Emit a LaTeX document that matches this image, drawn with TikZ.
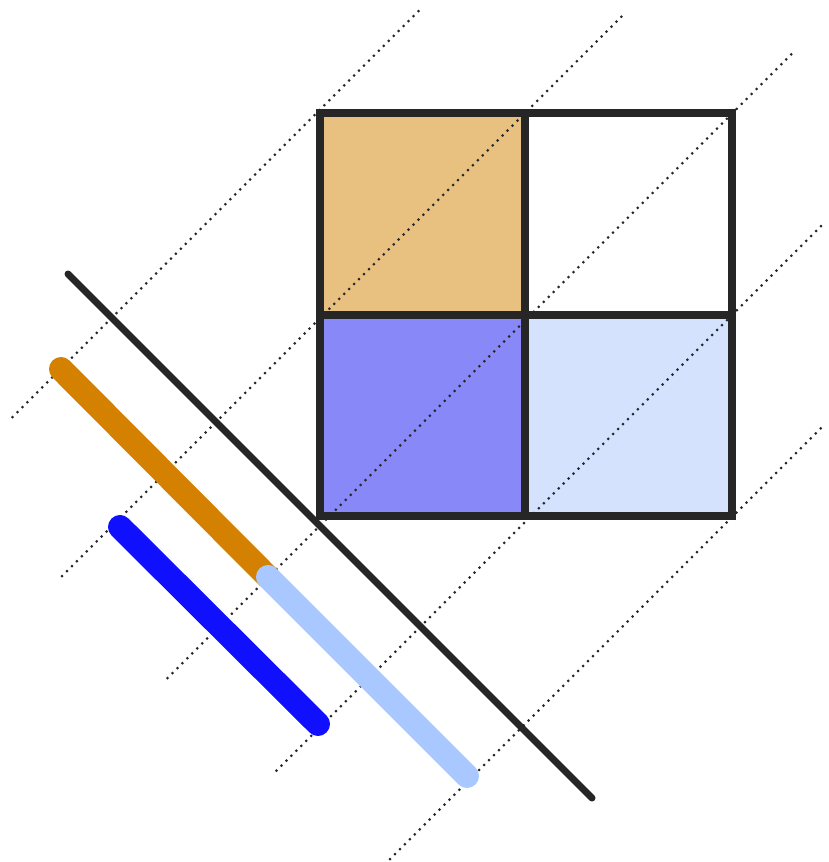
\documentclass[tikz,border=0pt]{standalone}
\begin{document}
\begin{tikzpicture}[x=1pt,y=-1pt,
  dotline/.style={draw=black!85, line width=3pt, dash pattern=on 0pt off 7pt, line cap=round},
  gridline/.style={draw=black!85, line width=8.5pt, line join=miter},
  diagline/.style={draw=black!85, line width=7pt, line cap=round},
  fatline/.style={line width=24pt, line cap=round}]
\definecolor{cellorange}{RGB}{232,192,128}
\definecolor{cellblue}{RGB}{136,136,248}
\definecolor{celllight}{RGB}{212,226,254}
\definecolor{lineorange}{RGB}{212,128,0}
\definecolor{lineblue}{RGB}{16,16,255}
\definecolor{linelight}{RGB}{168,200,255}
\useasboundingbox (0,0) rectangle (828,862);
% grid coordinates
\coordinate (tl) at (320,113);
\coordinate (tm) at (525,113);
\coordinate (tr) at (732,113);
\coordinate (ml) at (320,315);
\coordinate (mm) at (525,315);
\coordinate (mr) at (732,315);
\coordinate (bl) at (320,516);
\coordinate (bm) at (525,516);
\coordinate (br) at (732,516);
% fills
\fill[cellorange] (tl) rectangle (mm);
\fill[cellblue] (ml) rectangle (bm);
\fill[celllight] (mm) rectangle (br);
% dotted lines
\coordinate (d1a) at (12.5,417); \coordinate (d1b) at (419.5,10);
\coordinate (d2a) at (62,576); \coordinate (d2b) at (625.5,12.5);
\coordinate (d3a) at (167.5,678); \coordinate (d3b) at (792.5,53);
\coordinate (d4a) at (276.5,770.5); \coordinate (d4b) at (825.5,221.5);
\coordinate (d5a) at (390,859); \coordinate (d5b) at (825.5,423.5);
\foreach \i in {1,...,5} \draw[dotline] (d\i a) -- (d\i b);
% grid lines
\draw[gridline] (tl) rectangle (br);
\draw[gridline] (tm) -- (bm);
\draw[gridline] (ml) -- (mr);
% black diagonal
\coordinate (k1) at (68,274); \coordinate (k2) at (592,798);
\draw[diagline] (k1) -- (k2);
% thick coloured lines
\coordinate (o1) at (61,369); \coordinate (o2) at (268,577);
\coordinate (l2) at (467,776);
\coordinate (b1) at (120,527); \coordinate (b2) at (318,724);
\draw[fatline, lineorange] (o1) -- (o2);
\draw[fatline, linelight] (o2) -- (l2);
\draw[fatline, lineblue] (b1) -- (b2);
\end{tikzpicture}
\end{document}
